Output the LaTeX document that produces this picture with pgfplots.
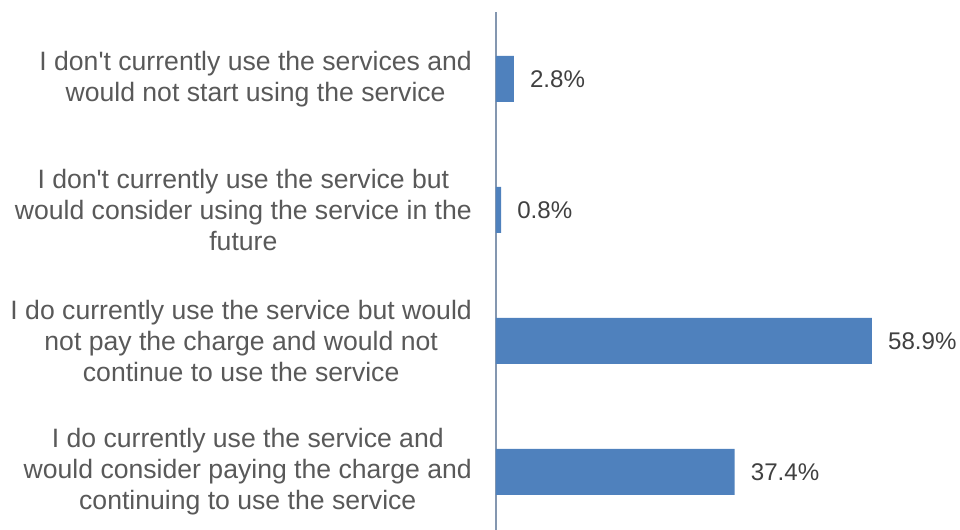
\documentclass[border=0pt]{standalone}
\usepackage{pgfplots}
\pgfplotsset{compat=1.18}
\usepackage{fontspec}
\setmainfont{Liberation Sans}
\definecolor{barc}{HTML}{4F81BD}
\definecolor{axisc}{HTML}{8497B0}
\definecolor{labc}{HTML}{595959}
\definecolor{valc}{HTML}{404040}
\begin{document}
\begin{tikzpicture}
\begin{axis}[
  at={(0,0)}, anchor=south west,
  scale only axis,
  width=464bp, height=518bp,
  xmin=0, xmax=72.7,
  ymin=-0.443, ymax=3.51,
  xbar, bar width=46bp,
  axis x line=none,
  axis y line=left,
  y axis line style={draw=axisc, line width=1.5bp, -},
  ytick={0,1,2,3},
  yticklabels={
    {I do currently use the service and\\would consider paying the charge and\\continuing to use the service},
    {I do currently use the service but would\\not pay the charge and would not\\continue to use the service},
    {I don\textquotesingle t currently use the service but\\would consider using the service in the\\future},
    {I don\textquotesingle t currently use the services and\\would not start using the service}},
  major tick length=0pt,
  yticklabel style={font=\fontsize{26.7}{31}\selectfont, text=labc, align=center, inner sep=0pt, xshift=-24bp},
  clip=false,
  nodes near coords={\pgfmathprintnumber[fixed,fixed zerofill,precision=1]{\pgfplotspointmeta}\%},
  /pgf/number format/assume math mode=true,
  every node near coord/.append style={font=\fontsize{24.2}{28}\selectfont, text=valc, inner sep=0pt, xshift=16bp, anchor=west},
]
\addplot[fill=barc, draw=none] coordinates {(37.4,0) (58.9,1) (0.8,2) (2.8,3)};
\end{axis}
\pgfresetboundingbox
\useasboundingbox (-496bp,0) rectangle (464bp,530bp);
\end{tikzpicture}
\end{document}
